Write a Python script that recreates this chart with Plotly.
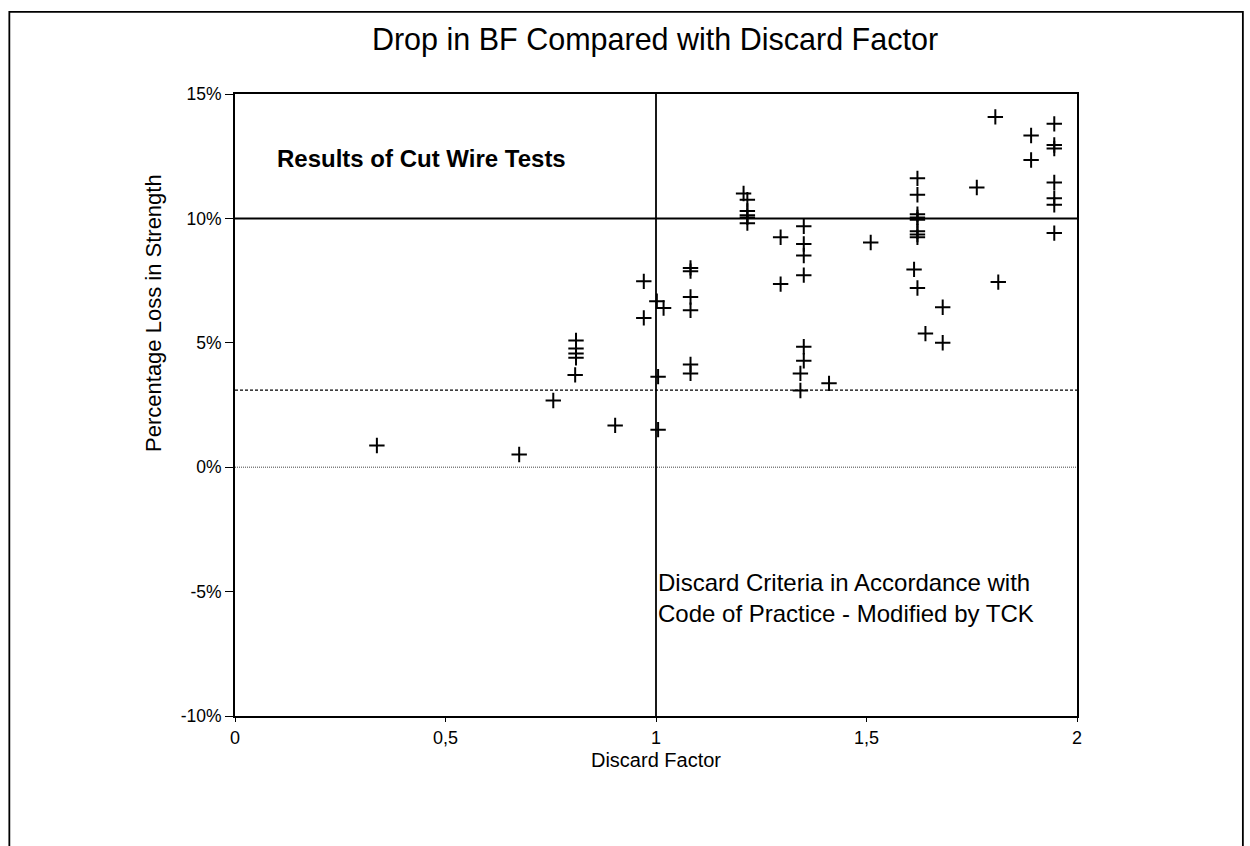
import plotly.graph_objects as go

# Cut wire test results: discard factor vs percentage loss in breaking force
discard_factor = [
    0.337, 0.675, 0.756, 0.808, 0.810, 0.810, 0.810, 0.810,
    0.903, 0.971, 0.971, 1.002, 1.018, 1.005, 1.005,
    1.082, 1.082, 1.082, 1.082, 1.082, 1.082,
    1.208, 1.217, 1.217, 1.217, 1.217, 1.217,
    1.296, 1.296,
    1.351, 1.351, 1.351, 1.351, 1.351, 1.351, 1.343, 1.343,
    1.411, 1.510,
    1.621, 1.621, 1.621, 1.621, 1.621, 1.621, 1.621, 1.621, 1.613, 1.621,
    1.640, 1.681, 1.681,
    1.762, 1.806, 1.813, 1.891, 1.891,
    1.946, 1.946, 1.946, 1.946, 1.946, 1.946, 1.946,
]
loss_pct = [
    0.87, 0.51, 2.68, 3.71, 5.09, 4.77, 4.57, 4.40,
    1.68, 7.47, 6.00, 6.67, 6.40, 3.64, 1.51,
    8.01, 7.88, 6.84, 6.31, 4.13, 3.77,
    11.00, 10.75, 10.30, 10.13, 10.04, 9.81,
    9.24, 7.36,
    9.68, 8.97, 8.51, 7.72, 4.84, 4.28, 3.77, 3.08,
    3.37, 9.03,
    11.61, 10.95, 10.17, 10.04, 9.95, 9.48, 9.35, 9.24, 7.95, 7.20,
    5.37, 6.43, 5.00,
    11.24, 14.08, 7.44, 13.33, 12.35,
    13.80, 12.95, 12.81, 11.44, 10.81, 10.55, 9.41,
]

x_ticks = [0, 0.5, 1, 1.5, 2]
x_tick_text = ["0", "0,5", "1", "1,5", "2"]
y_ticks = [-10, -5, 0, 5, 10, 15]
y_tick_text = ["-10%", "-5%", "0%", "5%", "10%", "15%"]

criterion_loss = 10.0
threshold_loss = 3.1
criterion_factor = 1.0

FONT = "Liberation Sans, Arial, sans-serif"

fig = go.Figure()
fig.add_trace(go.Scatter(
    x=discard_factor, y=loss_pct, mode="markers",
    marker=dict(symbol="cross-thin", size=11, color="black",
                line=dict(color="black", width=2)),
    showlegend=False, hoverinfo="x+y",
))

# reference lines
fig.add_shape(type="line", xref="x", yref="y", x0=0, x1=2,
              y0=criterion_loss, y1=criterion_loss,
              line=dict(color="black", width=2))
fig.add_shape(type="line", xref="x", yref="y", x0=0, x1=2,
              y0=threshold_loss, y1=threshold_loss,
              line=dict(color="black", width=1.3, dash="3px,2px"))
fig.add_shape(type="line", xref="x", yref="y", x0=0, x1=2,
              y0=0, y1=0,
              line=dict(color="#444", width=1, dash="1px,1px"))
fig.add_shape(type="line", xref="x", yref="y", x0=criterion_factor,
              x1=criterion_factor, y0=-10, y1=15,
              line=dict(color="black", width=1.8))

# outer frame
fig.add_shape(type="rect", xref="paper", yref="paper",
              x0=-0.268, x1=1.197, y0=-0.3, y1=1.132,
              line=dict(color="black", width=1.8))

fig.add_annotation(x=0.095, y=12.4, xref="x", yref="y",
                   text="<b>Results of Cut Wire Tests</b>",
                   showarrow=False, xanchor="left", yanchor="middle",
                   font=dict(family=FONT, size=24, color="black"))
fig.add_annotation(x=1.0, y=-5.25, xref="x", yref="y",
                   text="Discard Criteria in Accordance with<br>Code of Practice - Modified by TCK",
                   showarrow=False, xanchor="left", yanchor="middle", align="left",
                   font=dict(family=FONT, size=24, color="black"))

# y-axis title, set as a rotated label
fig.add_annotation(x=-0.0962, y=6.2, xref="paper", yref="y",
                   text="Percentage Loss in Strength", textangle=-90,
                   showarrow=False, xanchor="center", yanchor="middle",
                   font=dict(family=FONT, size=22, color="black"))

fig.update_layout(
    width=1250, height=846,
    margin=dict(l=235, r=173, t=94, b=130),
    paper_bgcolor="white", plot_bgcolor="white",
    font=dict(family=FONT, color="black"),
    title=dict(text="Drop in BF Compared with Discard Factor",
               x=0.524, xanchor="center", y=0.953, yanchor="middle",
               font=dict(family=FONT, size=30.5, color="black")),
    xaxis=dict(range=[0, 2], tickvals=x_ticks, ticktext=x_tick_text,
               showgrid=False, zeroline=False, showline=True, mirror=True,
               linecolor="black", linewidth=1.8, ticks="outside",
               ticklen=4, tickcolor="black",
               tickfont=dict(family=FONT, size=18),
               title=dict(text="Discard Factor", standoff=6,
                          font=dict(family=FONT, size=20))),
    yaxis=dict(range=[-10, 15], tickvals=y_ticks, ticktext=y_tick_text,
               showgrid=False, zeroline=False, showline=True, mirror=True,
               linecolor="black", linewidth=1.8, ticks="outside",
               ticklen=8, tickcolor="black",
               tickfont=dict(family=FONT, size=17.5)),
)

fig.write_html("out.html")
